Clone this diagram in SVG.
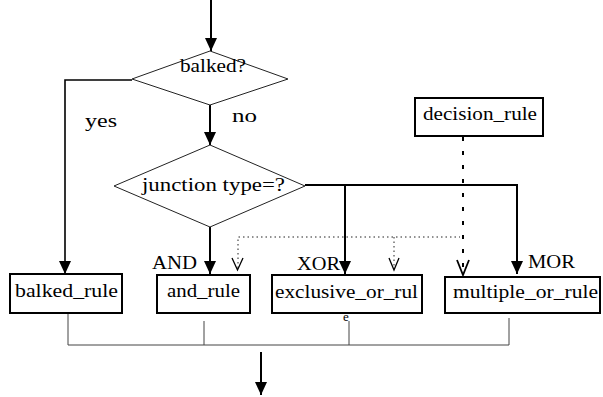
<svg xmlns="http://www.w3.org/2000/svg" width="603" height="397" viewBox="0 0 603 397">
<defs>
<style>
text{font-family:"Liberation Serif","Times New Roman",serif;font-size:18px;fill:#000}
.dia{fill:#fff;stroke:#222;stroke-width:1}
.box{fill:#fff;stroke:#000;stroke-width:2}
.main{fill:none;stroke:#000;stroke-width:2}
.thin{fill:none;stroke:#444;stroke-width:1}
.dash{fill:none;stroke:#000;stroke-width:2;stroke-dasharray:4 10}
.dot{fill:none;stroke:#222;stroke-width:1;stroke-dasharray:1.5 3}
.open{fill:none;stroke:#000;stroke-width:1.3}
</style>
<marker id="ah" viewBox="0 0 13 12" refX="13" refY="6" markerWidth="13" markerHeight="12" markerUnits="userSpaceOnUse" orient="auto">
<path d="M0,0 L13,6 L0,12 Z" fill="#000"/>
</marker>
</defs>
<rect width="603" height="397" fill="#fff"/>
<g id="connectors">
<line class="main" x1="211" y1="0" x2="211" y2="51" marker-end="url(#ah)"/>
<path class="main" d="M132,80 H65 V274" marker-end="url(#ah)" style="stroke-width:1.6"/>
<line class="main" x1="210" y1="105" x2="210" y2="145" marker-end="url(#ah)"/>
<line class="main" x1="210" y1="227" x2="210" y2="274" marker-end="url(#ah)"/>
<path class="main" d="M305,185 H517 V274" marker-end="url(#ah)"/>
<line class="main" x1="345" y1="185" x2="345" y2="274" marker-end="url(#ah)"/>
<line class="dash" x1="463" y1="137" x2="463" y2="274"/>
<path class="open" d="M457,260 L463,275 L469,260" style="stroke-width:1.8"/>
<path class="dot" d="M238,268 V237 H460"/>
<line class="dot" x1="394" y1="237" x2="394" y2="268"/>
<path class="open" d="M232,258 L237.5,270 L243,258"/>
<path class="open" d="M389,258 L394,270 L399,258"/>
<path class="thin" d="M68,313 V345 H509 V318"/>
<line class="thin" x1="204" y1="321" x2="204" y2="345"/>
<line class="thin" x1="349" y1="321" x2="349" y2="345"/>
<line class="main" x1="261" y1="352" x2="261" y2="395" marker-end="url(#ah)"/>
</g>
<g id="balked">
<polygon class="dia" points="210,51 288,79 210,105 132,79"/>
<text x="180" y="72" textLength="66" lengthAdjust="spacingAndGlyphs">balked?</text>
</g>
<g id="yes-label"><text x="85" y="127" textLength="32" lengthAdjust="spacingAndGlyphs">yes</text></g>
<g id="no-label"><text x="232" y="122" textLength="25" lengthAdjust="spacingAndGlyphs">no</text></g>
<g id="junction">
<polygon class="dia" points="210,145 305,186 210,227 114,186"/>
<text x="142" y="191" textLength="143" lengthAdjust="spacingAndGlyphs">junction type=?</text>
</g>
<g id="decision_rule">
<rect class="box" x="415" y="98" width="128" height="38"/>
<text x="423" y="120" textLength="114" lengthAdjust="spacingAndGlyphs">decision_rule</text>
</g>
<g id="labels">
<text x="152" y="269" textLength="45" lengthAdjust="spacingAndGlyphs">AND</text>
<text x="297" y="270" textLength="43" lengthAdjust="spacingAndGlyphs">XOR</text>
<text x="528" y="268" textLength="47" lengthAdjust="spacingAndGlyphs">MOR</text>
</g>
<g id="balked_rule">
<rect class="box" x="10" y="274" width="112" height="39"/>
<text x="15" y="297" textLength="103" lengthAdjust="spacingAndGlyphs">balked_rule</text>
</g>
<g id="and_rule">
<rect class="box" x="157" y="275" width="93" height="38"/>
<text x="167" y="297" textLength="73" lengthAdjust="spacingAndGlyphs">and_rule</text>
</g>
<g id="exclusive_or_rule">
<text x="343" y="321" style="font-size:13px">e</text>
<rect class="box" x="272" y="275" width="150" height="38"/>
<text x="275" y="298" textLength="143" lengthAdjust="spacingAndGlyphs">exclusive_or_rul</text>
</g>
<g id="multiple_or_rule">
<rect class="box" x="445" y="277" width="155" height="36"/>
<text x="453" y="298" textLength="145" lengthAdjust="spacingAndGlyphs">multiple_or_rule</text>
</g>
</svg>
